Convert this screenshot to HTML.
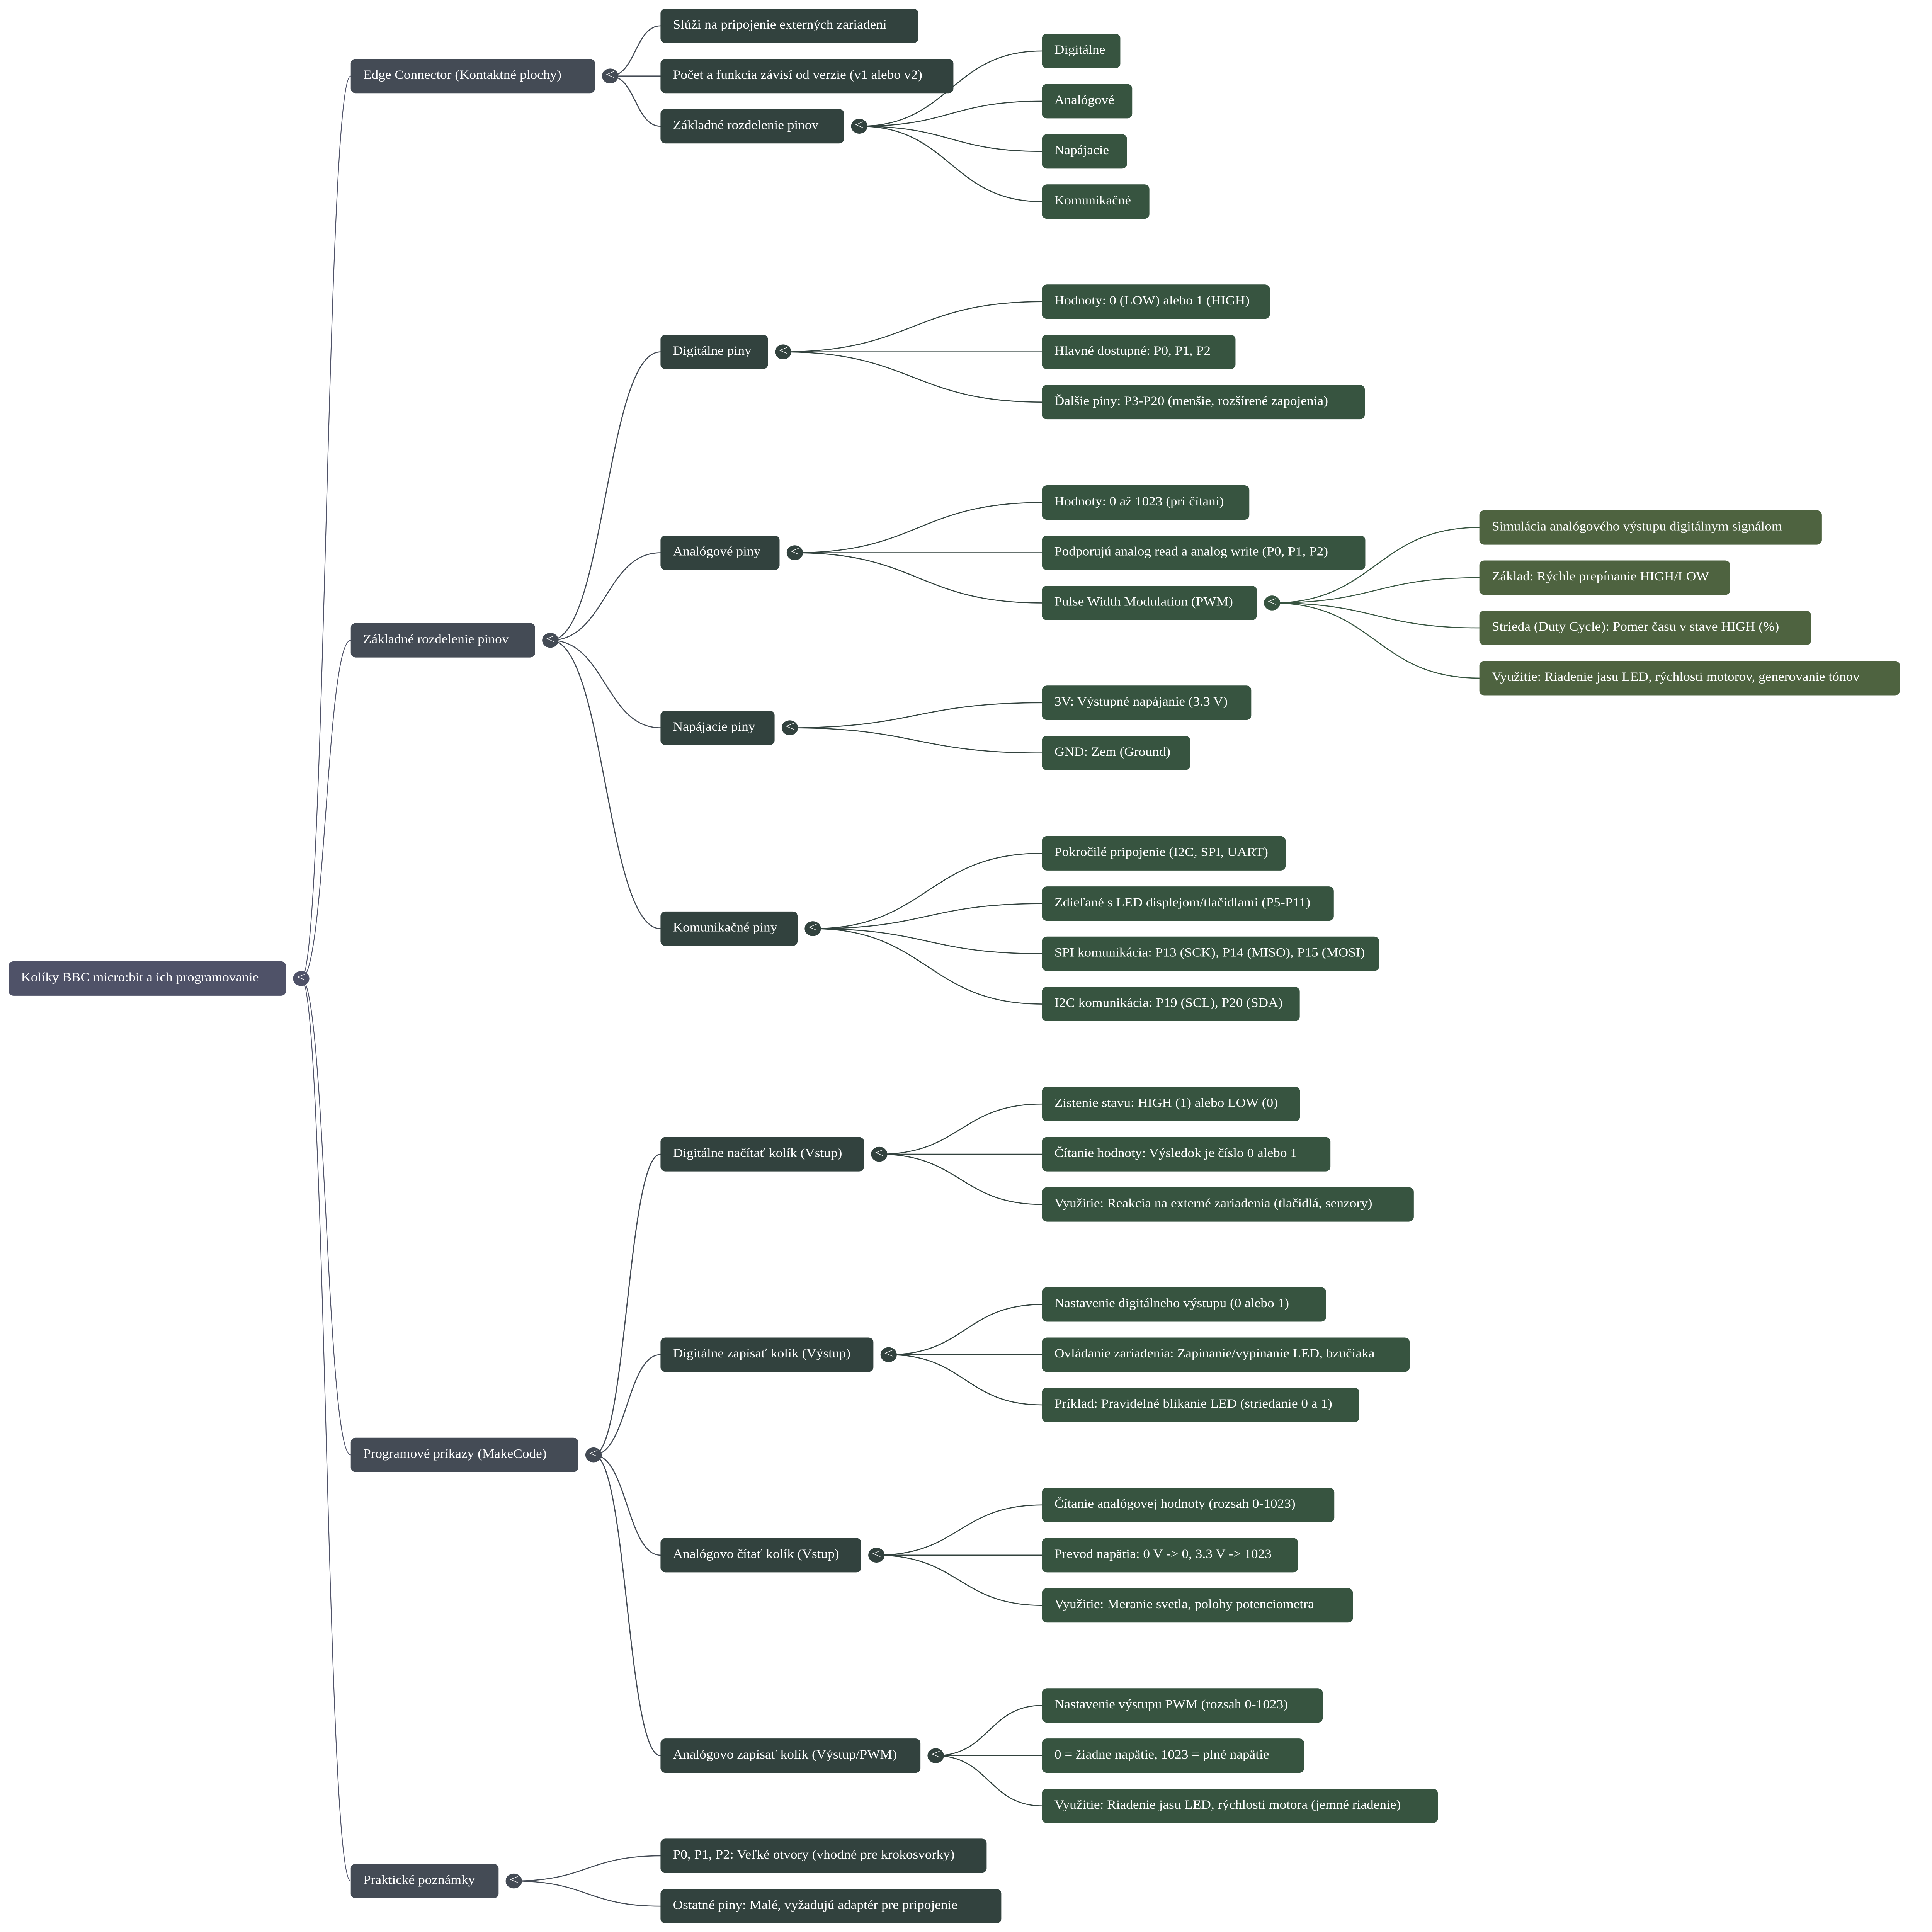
<!DOCTYPE html>
<html><head><meta charset="utf-8"><style>
html,body{margin:0;padding:0;background:#fff;width:100%;height:100%;overflow:hidden;}
svg{display:block;width:100vw;height:100vh;}
text{font-family:"Liberation Serif","DejaVu Serif",serif;font-size:49.3px;fill:#fff;}
</style></head><body>
<svg viewBox="0 0 6979 7637" preserveAspectRatio="none" xmlns="http://www.w3.org/2000/svg">
<g fill="none" stroke-linecap="round">
<!-- root lines -->
<g stroke="#4f5268" stroke-width="3">
<path d="M1088 3868 C1177.5 3868 1177.5 300.5 1267 300.5"/>
<path d="M1088 3868 C1177.5 3868 1177.5 2531 1267 2531"/>
<path d="M1088 3868 C1177.5 3868 1177.5 5751 1267 5751"/>
<path d="M1088 3868 C1177.5 3868 1177.5 7435.5 1267 7435.5"/>
</g>
<!-- L1 -> L2 -->
<g stroke="#444b55" stroke-width="4">
<path d="M2204 300.5 C2295 300.5 2295 102 2386 102"/>
<path d="M2204 300.5 C2295 300.5 2295 300.5 2386 300.5"/>
<path d="M2204 300.5 C2295 300.5 2295 499 2386 499"/>
<path d="M1988 2531 C2187 2531 2187 1391 2386 1391"/>
<path d="M1988 2531 C2187 2531 2187 2185 2386 2185"/>
<path d="M1988 2531 C2187 2531 2187 2877 2386 2877"/>
<path d="M1988 2531 C2187 2531 2187 3671 2386 3671"/>
<path d="M2144 5751 C2265 5751 2265 4562.5 2386 4562.5"/>
<path d="M2144 5751 C2265 5751 2265 5355 2386 5355"/>
<path d="M2144 5751 C2265 5751 2265 6147.5 2386 6147.5"/>
<path d="M2144 5751 C2265 5751 2265 6940 2386 6940"/>
<path d="M1856 7435.5 C2121 7435.5 2121 7336 2386 7336"/>
<path d="M1856 7435.5 C2121 7435.5 2121 7535 2386 7535"/>
</g>
<!-- L2 -> L3 -->
<g stroke="#32423e" stroke-width="4">
<path d="M3104 499 C3434 499 3434 201.5 3764 201.5"/>
<path d="M3104 499 C3434 499 3434 400 3764 400"/>
<path d="M3104 499 C3434 499 3434 598.5 3764 598.5"/>
<path d="M3104 499 C3434 499 3434 797 3764 797"/>
<path d="M2829 1391 C3296.5 1391 3296.5 1192.5 3764 1192.5"/>
<path d="M2829 1391 C3296.5 1391 3296.5 1391 3764 1391"/>
<path d="M2829 1391 C3296.5 1391 3296.5 1589.5 3764 1589.5"/>
<path d="M2871 2185 C3317.5 2185 3317.5 1986.5 3764 1986.5"/>
<path d="M2871 2185 C3317.5 2185 3317.5 2185 3764 2185"/>
<path d="M2871 2185 C3317.5 2185 3317.5 2383.5 3764 2383.5"/>
<path d="M2853 2877 C3308.5 2877 3308.5 2778 3764 2778"/>
<path d="M2853 2877 C3308.5 2877 3308.5 2976.5 3764 2976.5"/>
<path d="M2936 3671 C3350 3671 3350 3373 3764 3373"/>
<path d="M2936 3671 C3350 3671 3350 3572 3764 3572"/>
<path d="M2936 3671 C3350 3671 3350 3770 3764 3770"/>
<path d="M2936 3671 C3350 3671 3350 3969 3764 3969"/>
<path d="M3176 4562.5 C3470 4562.5 3470 4364 3764 4364"/>
<path d="M3176 4562.5 C3470 4562.5 3470 4562.5 3764 4562.5"/>
<path d="M3176 4562.5 C3470 4562.5 3470 4761 3764 4761"/>
<path d="M3210 5355 C3487 5355 3487 5156.5 3764 5156.5"/>
<path d="M3210 5355 C3487 5355 3487 5355 3764 5355"/>
<path d="M3210 5355 C3487 5355 3487 5553.5 3764 5553.5"/>
<path d="M3166 6147.5 C3465 6147.5 3465 5949 3764 5949"/>
<path d="M3166 6147.5 C3465 6147.5 3465 6147.5 3764 6147.5"/>
<path d="M3166 6147.5 C3465 6147.5 3465 6346 3764 6346"/>
<path d="M3380 6940 C3572 6940 3572 6741.5 3764 6741.5"/>
<path d="M3380 6940 C3572 6940 3572 6940 3764 6940"/>
<path d="M3380 6940 C3572 6940 3572 7138.5 3764 7138.5"/>
</g>
<!-- L3 -> L4 -->
<g stroke="#375440" stroke-width="4">
<path d="M4595 2383.5 C4969.5 2383.5 4969.5 2085 5344 2085"/>
<path d="M4595 2383.5 C4969.5 2383.5 4969.5 2283.5 5344 2283.5"/>
<path d="M4595 2383.5 C4969.5 2383.5 4969.5 2482 5344 2482"/>
<path d="M4595 2383.5 C4969.5 2383.5 4969.5 2680.5 5344 2680.5"/>
</g>
</g>

<!-- ROOT -->
<g>
<rect x="31" y="3800" width="1002" height="136" rx="18" fill="#4f5268"/>
<text x="76" y="3879">Kolíky BBC micro:bit a ich programovanie</text>
<circle cx="1088" cy="3868" r="29.5" fill="#4f5268"/>
<polyline points="1102,3850 1076,3862 1102,3874" fill="none" stroke="#fff" stroke-width="2.2"/>
</g>

<!-- L1 -->
<g fill="#444b55">
<rect x="1267" y="232.5" width="882" height="136" rx="18"/>
<rect x="1267" y="2463" width="666" height="136" rx="18"/>
<rect x="1267" y="5683" width="822" height="136" rx="18"/>
<rect x="1267" y="7367.5" width="534" height="136" rx="18"/>
<circle cx="2204" cy="300.5" r="29.5"/>
<circle cx="1988" cy="2531" r="29.5"/>
<circle cx="2144" cy="5751" r="29.5"/>
<circle cx="1856" cy="7435.5" r="29.5"/>
</g>
<text x="1312" y="311.5">Edge Connector (Kontaktné plochy)</text>
<text x="1312" y="2542">Základné rozdelenie pinov</text>
<text x="1312" y="5762">Programové príkazy (MakeCode)</text>
<text x="1312" y="7446.5">Praktické poznámky</text>

<!-- L2 -->
<g fill="#32423e">
<rect x="2386" y="34" width="931" height="136" rx="18"/>
<rect x="2386" y="232.5" width="1058" height="136" rx="18"/>
<rect x="2386" y="431" width="663" height="136" rx="18"/>
<rect x="2386" y="1323" width="388" height="136" rx="18"/>
<rect x="2386" y="2117" width="430" height="136" rx="18"/>
<rect x="2386" y="2809" width="412" height="136" rx="18"/>
<rect x="2386" y="3603" width="495" height="136" rx="18"/>
<rect x="2386" y="4494.5" width="735" height="136" rx="18"/>
<rect x="2386" y="5287" width="769" height="136" rx="18"/>
<rect x="2386" y="6079.5" width="725" height="136" rx="18"/>
<rect x="2386" y="6872" width="939" height="136" rx="18"/>
<rect x="2386" y="7268" width="1178" height="136" rx="18"/>
<rect x="2386" y="7467" width="1231" height="136" rx="18"/>
<circle cx="3104" cy="499" r="29.5"/>
<circle cx="2829" cy="1391" r="29.5"/>
<circle cx="2871" cy="2185" r="29.5"/>
<circle cx="2853" cy="2877" r="29.5"/>
<circle cx="2936" cy="3671" r="29.5"/>
<circle cx="3176" cy="4562.5" r="29.5"/>
<circle cx="3210" cy="5355" r="29.5"/>
<circle cx="3166" cy="6147.5" r="29.5"/>
<circle cx="3380" cy="6940" r="29.5"/>
</g>
<text x="2431" y="113">Slúži na pripojenie externých zariadení</text>
<text x="2431" y="311.5">Počet a funkcia závisí od verzie (v1 alebo v2)</text>
<text x="2431" y="510">Základné rozdelenie pinov</text>
<text x="2431" y="1402">Digitálne piny</text>
<text x="2431" y="2196">Analógové piny</text>
<text x="2431" y="2888">Napájacie piny</text>
<text x="2431" y="3682">Komunikačné piny</text>
<text x="2431" y="4573.5">Digitálne načítať kolík (Vstup)</text>
<text x="2431" y="5366">Digitálne zapísať kolík (Výstup)</text>
<text x="2431" y="6158.5">Analógovo čítať kolík (Vstup)</text>
<text x="2431" y="6951">Analógovo zapísať kolík (Výstup/PWM)</text>
<text x="2431" y="7347">P0, P1, P2: Veľké otvory (vhodné pre krokosvorky)</text>
<text x="2431" y="7546">Ostatné piny: Malé, vyžadujú adaptér pre pripojenie</text>

<!-- L3 -->
<g fill="#375440">
<rect x="3764" y="133.5" width="283" height="136" rx="18"/>
<rect x="3764" y="332" width="326" height="136" rx="18"/>
<rect x="3764" y="530.5" width="307" height="136" rx="18"/>
<rect x="3764" y="729" width="388" height="136" rx="18"/>
<rect x="3764" y="1124.5" width="823" height="136" rx="18"/>
<rect x="3764" y="1323" width="699" height="136" rx="18"/>
<rect x="3764" y="1521.5" width="1166" height="136" rx="18"/>
<rect x="3764" y="1918.5" width="749" height="136" rx="18"/>
<rect x="3764" y="2117" width="1168" height="136" rx="18"/>
<rect x="3764" y="2315.5" width="776" height="136" rx="18"/>
<rect x="3764" y="2710" width="756" height="136" rx="18"/>
<rect x="3764" y="2908.5" width="535" height="136" rx="18"/>
<rect x="3764" y="3305" width="880" height="136" rx="18"/>
<rect x="3764" y="3504" width="1054" height="136" rx="18"/>
<rect x="3764" y="3702" width="1218" height="136" rx="18"/>
<rect x="3764" y="3901" width="931" height="136" rx="18"/>
<rect x="3764" y="4296" width="932" height="136" rx="18"/>
<rect x="3764" y="4494.5" width="1042" height="136" rx="18"/>
<rect x="3764" y="4693" width="1343" height="136" rx="18"/>
<rect x="3764" y="5088.5" width="1026" height="136" rx="18"/>
<rect x="3764" y="5287" width="1328" height="136" rx="18"/>
<rect x="3764" y="5485.5" width="1146" height="136" rx="18"/>
<rect x="3764" y="5881" width="1056" height="136" rx="18"/>
<rect x="3764" y="6079.5" width="925" height="136" rx="18"/>
<rect x="3764" y="6278" width="1123" height="136" rx="18"/>
<rect x="3764" y="6673.5" width="1014" height="136" rx="18"/>
<rect x="3764" y="6872" width="947" height="136" rx="18"/>
<rect x="3764" y="7070.5" width="1430" height="136" rx="18"/>
<circle cx="4595" cy="2383.5" r="29.5"/>
</g>
<text x="3809" y="212.5">Digitálne</text>
<text x="3809" y="411">Analógové</text>
<text x="3809" y="609.5">Napájacie</text>
<text x="3809" y="808">Komunikačné</text>
<text x="3809" y="1203.5">Hodnoty: 0 (LOW) alebo 1 (HIGH)</text>
<text x="3809" y="1402">Hlavné dostupné: P0, P1, P2</text>
<text x="3809" y="1600.5">Ďalšie piny: P3-P20 (menšie, rozšírené zapojenia)</text>
<text x="3809" y="1997.5">Hodnoty: 0 až 1023 (pri čítaní)</text>
<text x="3809" y="2196">Podporujú analog read a analog write (P0, P1, P2)</text>
<text x="3809" y="2394.5">Pulse Width Modulation (PWM)</text>
<text x="3809" y="2789">3V: Výstupné napájanie (3.3 V)</text>
<text x="3809" y="2987.5">GND: Zem (Ground)</text>
<text x="3809" y="3384">Pokročilé pripojenie (I2C, SPI, UART)</text>
<text x="3809" y="3583">Zdieľané s LED displejom/tlačidlami (P5-P11)</text>
<text x="3809" y="3781">SPI komunikácia: P13 (SCK), P14 (MISO), P15 (MOSI)</text>
<text x="3809" y="3980">I2C komunikácia: P19 (SCL), P20 (SDA)</text>
<text x="3809" y="4375">Zistenie stavu: HIGH (1) alebo LOW (0)</text>
<text x="3809" y="4573.5">Čítanie hodnoty: Výsledok je číslo 0 alebo 1</text>
<text x="3809" y="4772">Využitie: Reakcia na externé zariadenia (tlačidlá, senzory)</text>
<text x="3809" y="5167.5">Nastavenie digitálneho výstupu (0 alebo 1)</text>
<text x="3809" y="5366">Ovládanie zariadenia: Zapínanie/vypínanie LED, bzučiaka</text>
<text x="3809" y="5564.5">Príklad: Pravidelné blikanie LED (striedanie 0 a 1)</text>
<text x="3809" y="5960">Čítanie analógovej hodnoty (rozsah 0-1023)</text>
<text x="3809" y="6158.5">Prevod napätia: 0 V -&gt; 0, 3.3 V -&gt; 1023</text>
<text x="3809" y="6357">Využitie: Meranie svetla, polohy potenciometra</text>
<text x="3809" y="6752.5">Nastavenie výstupu PWM (rozsah 0-1023)</text>
<text x="3809" y="6951">0 = žiadne napätie, 1023 = plné napätie</text>
<text x="3809" y="7149.5">Využitie: Riadenie jasu LED, rýchlosti motora (jemné riadenie)</text>

<!-- L4 -->
<g fill="#4e6340">
<rect x="5344" y="2017" width="1237" height="136" rx="18"/>
<rect x="5344" y="2215.5" width="906" height="136" rx="18"/>
<rect x="5344" y="2414" width="1198" height="136" rx="18"/>
<rect x="5344" y="2612.5" width="1519" height="136" rx="18"/>
</g>
<text x="5389" y="2096">Simulácia analógového výstupu digitálnym signálom</text>
<text x="5389" y="2294.5">Základ: Rýchle prepínanie HIGH/LOW</text>
<text x="5389" y="2493">Strieda (Duty Cycle): Pomer času v stave HIGH (%)</text>
<text x="5389" y="2691.5">Využitie: Riadenie jasu LED, rýchlosti motorov, generovanie tónov</text>

<!-- chevrons -->
<g fill="none" stroke="#fff" stroke-width="2.2">
<polyline points="2218,282.5 2192,294.5 2218,306.5"/>
<polyline points="2002,2513 1976,2525 2002,2537"/>
<polyline points="2158,5733 2132,5745 2158,5757"/>
<polyline points="1870,7417.5 1844,7429.5 1870,7441.5"/>
<polyline points="3118,481 3092,493 3118,505"/>
<polyline points="2843,1373 2817,1385 2843,1397"/>
<polyline points="2885,2167 2859,2179 2885,2191"/>
<polyline points="2867,2859 2841,2871 2867,2883"/>
<polyline points="2950,3653 2924,3665 2950,3677"/>
<polyline points="3190,4544.5 3164,4556.5 3190,4568.5"/>
<polyline points="3224,5337 3198,5349 3224,5361"/>
<polyline points="3180,6129.5 3154,6141.5 3180,6153.5"/>
<polyline points="3394,6922 3368,6934 3394,6946"/>
<polyline points="4609,2365.5 4583,2377.5 4609,2389.5"/>
</g>
</svg>
</body></html>
